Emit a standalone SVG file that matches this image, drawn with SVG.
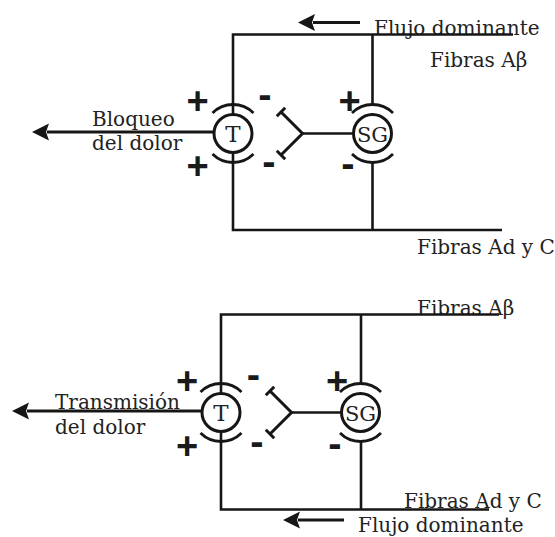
<svg xmlns="http://www.w3.org/2000/svg" width="555" height="537" viewBox="0 0 555 537">
  <style>
    .ln { fill: none; stroke: #161616; stroke-width: 2.6; stroke-linecap: butt; stroke-linejoin: miter; }
    .arw { fill: none; stroke: #161616; stroke-width: 3.2; }
    .inh { fill: none; stroke: #161616; stroke-width: 3; stroke-linecap: butt; }
    .stem { fill: none; stroke: #161616; stroke-width: 2.4; }
    .cell { fill: #fff; stroke: #161616; stroke-width: 3; }
    .arc { fill: none; stroke: #161616; stroke-width: 2.8; }
    .lbl { font-family: "DejaVu Serif", "Liberation Serif", serif; font-size: 20px; fill: #222; }
    .cl { font-family: "DejaVu Serif", "Liberation Serif", serif; font-size: 23px; fill: #222; text-anchor: middle; }
    .cl2 { font-family: "DejaVu Serif", "Liberation Serif", serif; font-size: 21px; fill: #222; text-anchor: middle; }
    .plus { font-family: "Liberation Sans", Arial, sans-serif; font-weight: bold; font-size: 38px; fill: #1a1a1a; text-anchor: middle; }
    .minus { font-family: "Liberation Sans", Arial, sans-serif; font-weight: bold; font-size: 40px; fill: #1a1a1a; text-anchor: middle; }
  </style>
  <defs>
    <marker id="ah" viewBox="0 0 17 18" refX="2" refY="9" markerWidth="17" markerHeight="18" markerUnits="userSpaceOnUse" orient="auto-start-reverse">
      <path d="M17,9 L0,0.5 L3,9 L0,17.5 Z" fill="#161616"/>
    </marker>
    <path id="arcs" d="M-20.5,-20.5 A29,29 0 0 1 20.5,-20.5 M-20.5,20.5 A29,29 0 0 0 20.5,20.5"/>
  </defs>

  <rect width="555" height="537" fill="#fff"/>

  <g id="labels">
    <text class="lbl" x="374" y="35">Flujo dominante</text>
    <text class="lbl" x="430" y="67">Fibras Aβ</text>
    <text class="lbl" x="92" y="126">Bloqueo</text>
    <text class="lbl" x="92" y="149.5">del dolor</text>
    <text class="lbl" x="417" y="253.5">Fibras Ad y C</text>

    <text class="lbl" x="417" y="315">Fibras Aβ</text>
    <text class="lbl" x="55" y="409">Transmisión</text>
    <text class="lbl" x="55" y="433.5">del dolor</text>
    <text class="lbl" x="404" y="507.5">Fibras Ad y C</text>
    <text class="lbl" x="358" y="531.5">Flujo dominante</text>
  </g>

  <g id="connectors">
    <path class="ln" d="M513,34.5 H233 V114.5"/>
    <path class="ln" d="M233,152.5 V230 H502"/>
    <path class="ln" d="M372.5,34.5 V104.5"/>
    <path class="ln" d="M372.5,162.5 V230"/>
    <path class="arw" d="M47,132 H214" marker-start="url(#ah)"/>
    <path class="arw" d="M313,22.5 H360" marker-start="url(#ah)"/>
    <path class="stem" d="M302.5,133.5 H353.5"/>
    <path class="inh" d="M281,112 L302.5,133.5 L281,155"/>
    <path class="inh" d="M276.8,116.2 L285.2,107.8 M276.8,150.8 L285.2,159.2"/>

    <path class="ln" d="M499,314.5 H221 V393.5"/>
    <path class="ln" d="M221,431.5 V509.5 H489"/>
    <path class="ln" d="M361,314.5 V383.5"/>
    <path class="ln" d="M361,441.5 V509.5"/>
    <path class="arw" d="M27,411 H202" marker-start="url(#ah)"/>
    <path class="arw" d="M298,520 H344" marker-start="url(#ah)"/>
    <path class="stem" d="M291.5,412.5 H341.5"/>
    <path class="inh" d="M270,391 L291.5,412.5 L270,434"/>
    <path class="inh" d="M265.8,395.2 L274.2,386.8 M265.8,429.8 L274.2,438.2"/>
  </g>

  <g id="T1">
    <circle class="cell" cx="233" cy="133.5" r="19"/>
    <use href="#arcs" class="arc" x="233" y="133.5"/>
    <text class="cl" x="233" y="142">T</text>
  </g>
  <g id="SG1">
    <circle class="cell" cx="372.5" cy="133.5" r="19"/>
    <use href="#arcs" class="arc" x="372.5" y="133.5"/>
    <text class="cl2" x="372.5" y="141.5">SG</text>
  </g>
  <g id="T2">
    <circle class="cell" cx="221" cy="412.5" r="19"/>
    <use href="#arcs" class="arc" x="221" y="412.5"/>
    <text class="cl" x="221" y="421">T</text>
  </g>
  <g id="SG2">
    <circle class="cell" cx="360.5" cy="412.5" r="19"/>
    <use href="#arcs" class="arc" x="360.5" y="412.5"/>
    <text class="cl2" x="360.5" y="420.5">SG</text>
  </g>

  <g id="signs">
    <text class="plus" x="197.5" y="113.8">+</text>
    <text class="plus" x="197.5" y="179.3">+</text>
    <text class="minus" x="265" y="108.2">-</text>
    <text class="minus" x="269" y="174.7">-</text>
    <text class="plus" x="349.5" y="114.3">+</text>
    <text class="minus" x="348" y="176.7">-</text>

    <text class="plus" x="187" y="393.8">+</text>
    <text class="plus" x="187" y="459.3">+</text>
    <text class="minus" x="253.5" y="387.7">-</text>
    <text class="minus" x="257" y="454.7">-</text>
    <text class="plus" x="337" y="394.3">+</text>
    <text class="minus" x="335" y="456.7">-</text>
  </g>
</svg>
